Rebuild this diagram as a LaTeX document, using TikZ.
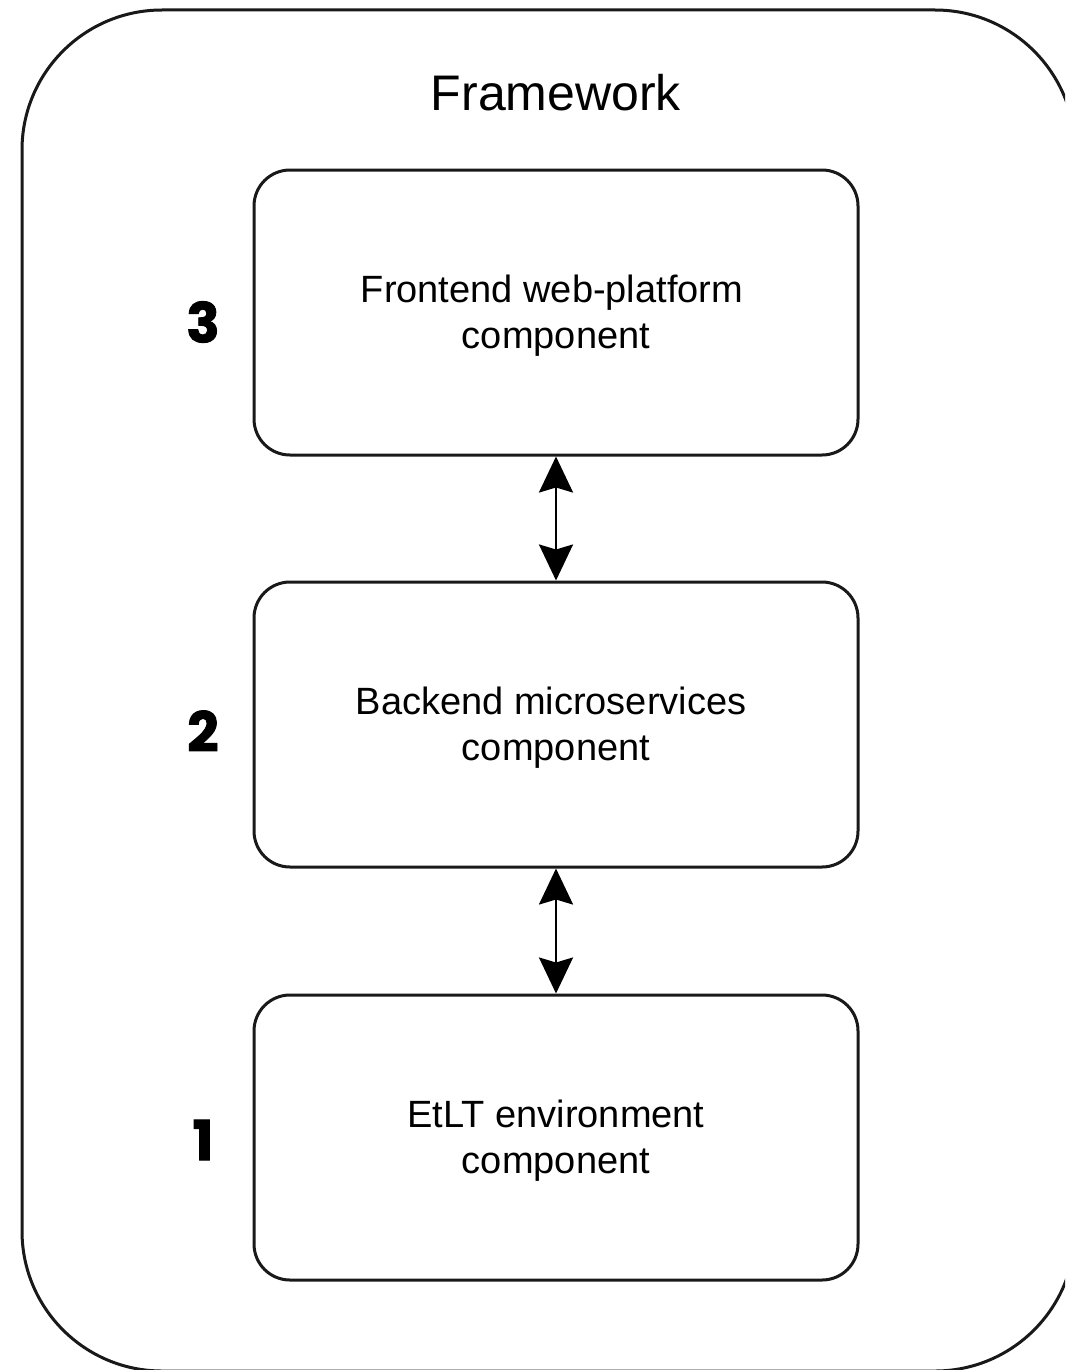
\documentclass[tikz,border=0pt]{standalone}
\usepackage{fontspec}
\setmainfont{Liberation Sans}
\newfontfamily\numfont[BoldFeatures={FakeBold=1.6}]{Poppins}
\usetikzlibrary{arrows.meta}
\begin{document}
\begin{tikzpicture}[x=1pt,y=-1pt,
  frame/.style={draw=black!90, line width=3pt, rounded corners=140pt},
  compbox/.style={draw=black!90, line width=3pt, rounded corners=36pt,
    minimum width=604pt, minimum height=285pt, inner sep=0pt},
  boxtext/.style={align=center, font=\fontsize{38}{46}\selectfont, inner sep=0pt, yshift=-3pt},
  link/.style={line width=2.5pt, {Stealth[length=36pt,width=34pt,inset=5pt]}-{Stealth[length=36pt,width=34pt,inset=5pt]}},
  level/.style={font=\numfont\bfseries\fontsize{55}{60}\selectfont}
]
\useasboundingbox (0,0) rectangle (1065,1370);
\clip (0,0) rectangle (1065,1370);
\fill[white] (0,0) rectangle (1065,1370);
\draw[frame] (22,10) rectangle (1075,1371);
\node[font=\fontsize{50}{60}\selectfont] (title) at (556,93) {Framework};
\node[compbox, label={[boxtext]center:\hspace*{-8pt}Frontend web-platform\\component}] (front) at (556,312.5) {};
\node[compbox, label={[boxtext]center:\hspace*{-10pt}Backend microservices\\component}] (back) at (556,724.5) {};
\node[compbox, label={[boxtext]center:EtLT environment\\component}] (etlt) at (556,1137.5) {};
\draw[link] (front.south) -- (back.north);
\draw[link] (back.south) -- (etlt.north);
\node[level] (n3) at (203,322) {3};
\node[level] (n2) at (203,731) {2};
\node[level] (n1) at (203,1140) {1};
\end{tikzpicture}
\end{document}
